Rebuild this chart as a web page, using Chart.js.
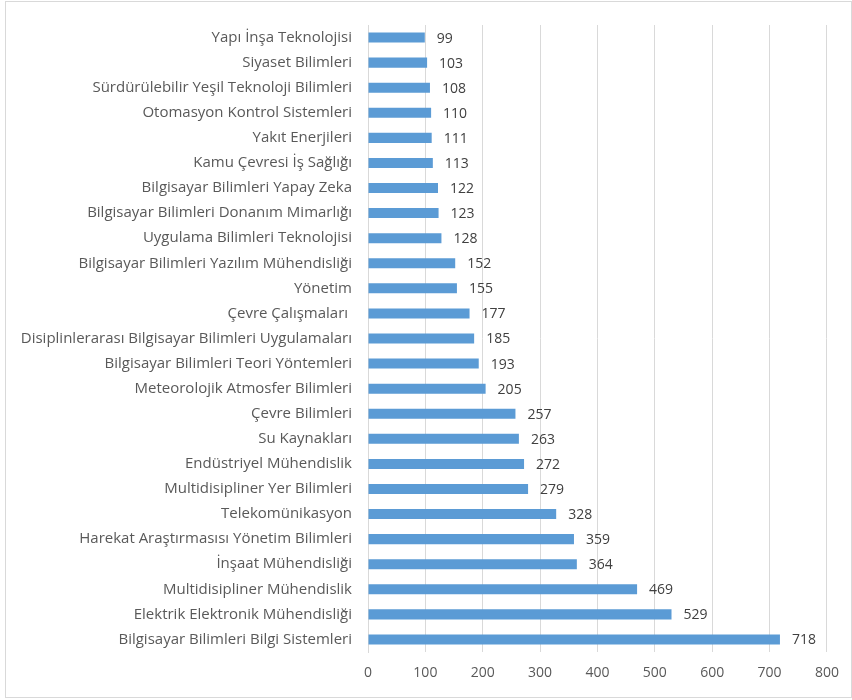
<!DOCTYPE html>
<html>
<head>
<meta charset="utf-8">
<script src="https://cdn.jsdelivr.net/npm/chart.js@4"></script>
<style>
  html, body { margin: 0; padding: 0; background: #fff; }
  #frame { position: absolute; left: 5px; top: 1px; width: 845px; height: 695px; border: 1px solid #d9d9d9; }
  #wrap { position: absolute; left: 0; top: 0; width: 852px; height: 700px; }
</style>
</head>
<body>
<div id="frame"></div>
<div id="wrap"><canvas id="chart-fields"></canvas></div>
<script>
// Categories, top to bottom
const categories = [
    'Yapı İnşa Teknolojisi',
    'Siyaset Bilimleri',
    'Sürdürülebilir Yeşil Teknoloji Bilimleri',
    'Otomasyon Kontrol Sistemleri',
    'Yakıt Enerjileri',
    'Kamu Çevresi İş Sağlığı',
    'Bilgisayar Bilimleri Yapay Zeka',
    'Bilgisayar Bilimleri Donanım Mimarlığı',
    'Uygulama Bilimleri Teknolojisi',
    'Bilgisayar Bilimleri Yazılım Mühendisliği',
    'Yönetim',
    'Çevre Çalışmaları ',
    'Disiplinlerarası Bilgisayar Bilimleri Uygulamaları',
    'Bilgisayar Bilimleri Teori Yöntemleri',
    'Meteorolojik Atmosfer Bilimleri',
    'Çevre Bilimleri',
    'Su Kaynakları',
    'Endüstriyel Mühendislik',
    'Multidisipliner Yer Bilimleri',
    'Telekomünikasyon',
    'Harekat Araştırmasısı Yönetim Bilimleri',
    'İnşaat Mühendisliği',
    'Multidisipliner Mühendislik',
    'Elektrik Elektronik Mühendisliği',
    'Bilgisayar Bilimleri Bilgi Sistemleri'
];
const counts = [99, 103, 108, 110, 111, 113, 122, 123, 128, 152, 155, 177, 185, 193, 205,
    257, 263, 272, 279, 328, 359, 364, 469, 529, 718];
const axisMin = 0;
const axisMax = 800;
const axisStep = 100;

const FONT = 'Open Sans, sans-serif';

// value labels to the right of each bar
const valueLabels = {
    id: 'valueLabels',
    afterDatasetsDraw(chart) {
        const ctx = chart.ctx;
        const meta = chart.getDatasetMeta(0);
        ctx.save();
        ctx.font = '14px ' + FONT;
        ctx.fillStyle = '#404040';
        ctx.textAlign = 'left';
        ctx.textBaseline = 'middle';
        meta.data.forEach((bar, i) => {
            ctx.fillText(String(counts[i]), bar.x + 12, bar.y + 1);
        });
        ctx.restore();
    }
};

new Chart(document.getElementById('chart-fields'), {
    type: 'bar',
    data: {
        labels: categories,
        datasets: [{
            data: counts,
            backgroundColor: '#5b9bd5',
            borderWidth: 0,
            categoryPercentage: 0.4,
            barPercentage: 1
        }]
    },
    options: {
        indexAxis: 'y',
        responsive: true,
        maintainAspectRatio: false,
        animation: false,
        layout: { padding: { top: 20, right: 23, bottom: 0, left: 0 } },
        plugins: {
            legend: { display: false },
            tooltip: { enabled: false }
        },
        scales: {
            x: {
                min: axisMin,
                max: axisMax,
                ticks: {
                    stepSize: axisStep,
                    color: '#595959',
                    font: { family: FONT, size: 14 },
                    padding: 13
                },
                grid: { color: '#d9d9d9', drawTicks: false },
                border: { display: false },
                afterFit(scale) { scale.height = 48; }
            },
            y: {
                ticks: {
                    color: '#595959',
                    font: { family: FONT, size: 15 },
                    padding: 16,
                    autoSkip: false
                },
                grid: { display: false, drawTicks: false },
                border: { display: true, color: '#d9d9d9' },
                afterFit(scale) { scale.width = 368; }
            }
        }
    },
    plugins: [valueLabels]
});
</script>
</body>
</html>
